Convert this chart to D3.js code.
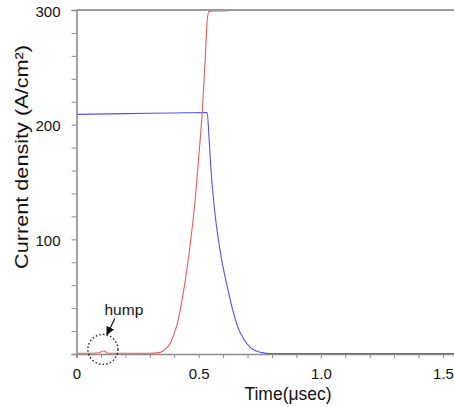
<!DOCTYPE html>
<html>
<head>
<meta charset="utf-8">
<script src="https://cdn.jsdelivr.net/npm/d3@7"></script>
<style>
  html, body { margin: 0; padding: 0; background: #ffffff; }
  svg { display: block; font-family: "Liberation Sans", Arial, sans-serif; }
</style>
</head>
<body>
<svg id="chart" width="454" height="407"></svg>
<script>
// ---- data ----
const redTime  = [0, 0.05, 0.08, 0.10, 0.112, 0.118, 0.125, 0.20, 0.30, 0.33, 0.36, 0.384, 0.40, 0.412, 0.432, 0.452, 0.469, 0.486, 0.50, 0.514, 0.527, 0.535, 0.542, 0.56, 0.62, 0.64, 1.545];
const redValue = [0.6, 0.6, 0.9, 1.8, 2.9, 2.2, 0.7, 0.6, 0.7, 1.0, 3.5, 9.6, 18, 26, 47, 74, 102, 135, 171, 209, 258, 291, 298.6, 299.2, 299.3, 300, 300];

const blueTime  = [0, 0.2, 0.4, 0.535, 0.542, 0.55, 0.563, 0.587, 0.62, 0.64, 0.661, 0.684, 0.71, 0.731, 0.76, 0.79, 1.0, 1.545];
const blueValue = [209, 209.6, 210.2, 210.6, 190, 162, 130, 91, 56, 38, 23, 13, 6, 3, 1.2, 0.4, 0.3, 0.3];

const xTickValues = [0, 0.1, 0.2, 0.3, 0.4, 0.5, 0.6, 0.7, 0.8, 0.9, 1.0, 1.1, 1.2, 1.3, 1.4, 1.5];
const xTickLabels = {"0": "0", "0.5": "0.5", "1": "1.0", "1.5": "1.5"};
const yTickValues = [0, 20, 40, 60, 80, 100, 120, 140, 160, 180, 200, 220, 240, 260, 280, 300];
const yTickLabels = {"100": "100", "200": "200", "300": "300"};

const xTitle = "Time(\u03bcsec)";
const yTitle = "Current density (A/cm\u00b2)";
const annotationText = "hump";
const humpTime = 0.108, humpValue = 4;

// ---- layout ----
const svg = d3.select("#chart");
const mLeft = 76.5, mRight = 454, mTop = 10, mBottom = 354;
const x = d3.scaleLinear().domain([0, 1.545]).range([mLeft, mRight]);
const y = d3.scaleLinear().domain([0, 300]).range([mBottom, mTop]);
const axisColor = "#8c8c8c";

// curves
const redData = redTime.map((t, i) => [t, redValue[i]]);
const blueData = blueTime.map((t, i) => [t, blueValue[i]]);
const line = d3.line().x(d => x(d[0])).y(d => y(d[1])).curve(d3.curveMonotoneX);

svg.append("path").datum(blueData).attr("d", line)
  .attr("fill", "none").attr("stroke", "#5050ee").attr("stroke-width", 1.1);
svg.append("path").datum(redData).attr("d", line)
  .attr("fill", "none").attr("stroke", "#ee5a5a").attr("stroke-width", 1.1);

// top frame line (drawn over the red plateau)
svg.append("line")
  .attr("x1", mLeft).attr("x2", mRight).attr("y1", y(300)).attr("y2", y(300))
  .attr("stroke", "#9a9a9a").attr("stroke-width", 1.8);

// x axis
const xAxis = d3.axisBottom(x).tickValues(xTickValues).tickSize(4)
  .tickFormat(d => xTickLabels[String(d)] || "");
const gx = svg.append("g").attr("transform", `translate(0,${mBottom})`).call(xAxis);
gx.select(".domain").attr("stroke", axisColor).attr("stroke-width", 1.6);
gx.selectAll(".tick line").attr("stroke", axisColor).attr("stroke-width", 1);
gx.selectAll(".tick text").attr("font-size", 15).attr("fill", "#111")
  .attr("font-family", "Liberation Sans, Arial, sans-serif").attr("dy", "1.2em");

// y axis
const yAxis = d3.axisLeft(y).tickValues(yTickValues).tickSize(5)
  .tickFormat(d => yTickLabels[String(d)] || "");
const gy = svg.append("g").attr("transform", `translate(${mLeft},0)`).call(yAxis);
gy.select(".domain").attr("stroke", axisColor).attr("stroke-width", 1.6);
gy.selectAll(".tick line").attr("stroke", axisColor).attr("stroke-width", 1);
gy.selectAll(".tick text").attr("font-size", 15).attr("fill", "#111")
  .attr("font-family", "Liberation Sans, Arial, sans-serif").attr("x", -16).attr("dy", "0.4em");

// axis titles
svg.append("text")
  .attr("x", 288).attr("y", 400)
  .attr("text-anchor", "middle").attr("font-size", 17.5).attr("fill", "#111")
  .text(xTitle);

svg.append("text")
  .attr("transform", `translate(28,157) rotate(-90)`)
  .attr("text-anchor", "middle").attr("font-size", 19).attr("fill", "#111")
  .attr("textLength", 224).attr("lengthAdjust", "spacingAndGlyphs")
  .text(yTitle);

// annotation: dotted circle, arrow and label
const cx = x(humpTime), cy = y(humpValue);
svg.append("circle").attr("cx", cx).attr("cy", cy).attr("r", 15)
  .attr("fill", "none").attr("stroke", "#111").attr("stroke-width", 1.3)
  .attr("stroke-dasharray", "1.5,2.2");

svg.append("defs").append("marker")
  .attr("id", "arrow").attr("viewBox", "0 0 10 10").attr("refX", 9).attr("refY", 5)
  .attr("markerWidth", 7).attr("markerHeight", 7).attr("orient", "auto")
  .append("path").attr("d", "M0,0 L10,5 L0,10 z").attr("fill", "#111");

svg.append("line")
  .attr("x1", cx + 12).attr("y1", cy - 31).attr("x2", cx + 4).attr("y2", cy - 15)
  .attr("stroke", "#111").attr("stroke-width", 1.2).attr("marker-end", "url(#arrow)");

svg.append("text").attr("x", cx + 21).attr("y", cy - 34)
  .attr("text-anchor", "middle").attr("font-size", 15.5).attr("fill", "#111")
  .text(annotationText);
</script>
</body>
</html>
